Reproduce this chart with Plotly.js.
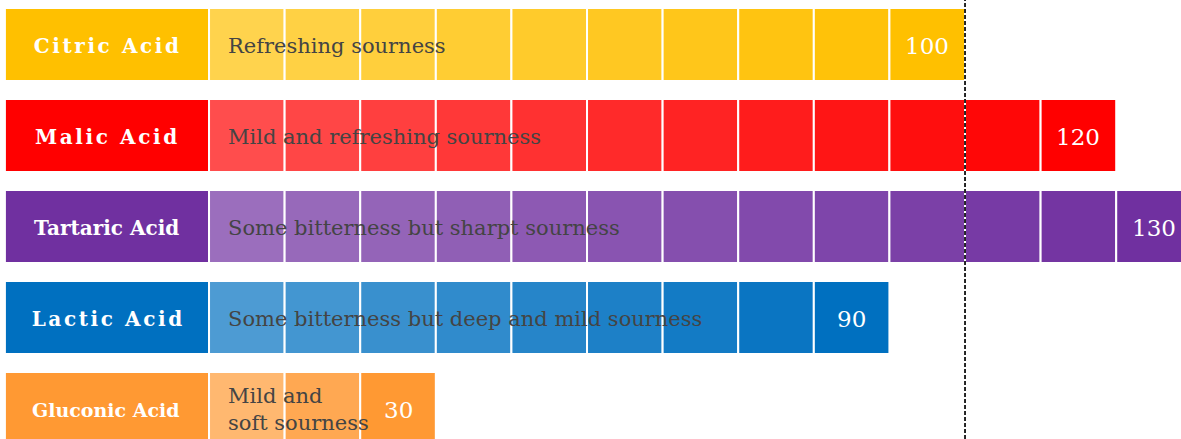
<!DOCTYPE html>
<html>
<head>
<meta charset="utf-8">
<script src="https://cdn.plot.ly/plotly-3.0.1.min.js"></script>
<style>
html,body{margin:0;padding:0;background:#fff;}
#chart{width:1181px;height:439px;}
g.annotation.spaced text{letter-spacing:2.6px;}
</style>
</head>
<body>
<div id="chart"></div>
<script>
// ---- data ----
var acids = ["Citric Acid", "Malic Acid", "Tartaric Acid", "Lactic Acid", "Gluconic Acid"];
var sourness = [100, 120, 130, 90, 30];
var descriptions = ["Refreshing sourness", "Mild and refreshing sourness", "Some bitterness but sharpt sourness", "Some bitterness but deep and mild sourness", "Mild and<br>soft sourness"];
var baseColors = ["#FFC000", "#FF0000", "#7030A0", "#0070C0", "#FF9933"];
var referenceValue = 100;
var step = 10;

// ---- style (not data) ----
var labelFontSizes = [20, 20, 20, 20, 19];
var labelSpaced = [true, true, false, true, false];

// ---- helpers ----
function hexToRgb(h){h=h.replace('#','');return [parseInt(h.substr(0,2),16),parseInt(h.substr(2,2),16),parseInt(h.substr(4,2),16)];}
function mixWhite(h, w){var c=hexToRgb(h);return 'rgb('+c.map(function(v){return Math.round(v*(1-w)+255*w);}).join(',')+')';}

var traces = [];
var labelW = 27;
// label boxes
traces.push({
  type:'bar', orientation:'h',
  y: acids.map(function(_,i){return i;}),
  x: acids.map(function(){return labelW;}),
  base: acids.map(function(){return -labelW;}),
  width: 0.8,
  marker:{color: baseColors, line:{color:'#fff', width:2}},
  hoverinfo:'skip', showlegend:false
});
// segmented bars
acids.forEach(function(name, i){
  var n = Math.round(sourness[i]/step);
  var xs=[], bs=[], ys=[], cs=[];
  for (var k=0;k<n;k++){
    xs.push(step); bs.push(k*step); ys.push(i);
    var t = n>1 ? k/(n-1) : 1;
    cs.push(mixWhite(baseColors[i], 0.3*(1-t)));
  }
  traces.push({
    type:'bar', orientation:'h', y:ys, x:xs, base:bs, width:0.8,
    marker:{color:cs, line:{color:'#fff', width:2}},
    hoverinfo:'skip', showlegend:false
  });
});

var annotations = [];
var spacedIdx = [];
acids.forEach(function(name, i){
  if (labelSpaced[i]) spacedIdx.push(annotations.length);
  annotations.push({x:-labelW/2 - 0.1, y:i, xref:'x', yref:'y', yshift:-1, text:'<b>'+name+'</b>', showarrow:false,
    xanchor:'center', yanchor:'middle', font:{family:'DejaVu Serif', size: labelFontSizes[i], color:'#fff'}});
  annotations.push({x:2.2, y:i, xref:'x', yref:'y', yshift:-1, text:descriptions[i], showarrow:false,
    xanchor:'left', yanchor:'middle', align:'left', font:{family:'DejaVu Serif', size:21, color:'#444'}});
  annotations.push({x:sourness[i]-step/2, y:i, xref:'x', yref:'y', yshift:-1, text:String(sourness[i]), showarrow:false,
    xanchor:'center', yanchor:'middle', font:{family:'DejaVu Serif', size:23, color:'#fff'}});
});

var layout = {
  width:1181, height:439,
  margin:{l:0, r:0, t:0, b:0},
  paper_bgcolor:'#fff', plot_bgcolor:'#fff',
  barmode:'overlay',
  xaxis:{range:[-27.65, 128.57], visible:false, fixedrange:true},
  yaxis:{range:[4.335, -0.489], visible:false, fixedrange:true},
  annotations: annotations,
  shapes:[{type:'line', xref:'x', yref:'paper', x0:referenceValue, x1:referenceValue, y0:0, y1:1,
    line:{color:'#111', width:1.8, dash:'4px,2px'}, layer:'above'}],
  showlegend:false
};

function markSpaced(){
  document.querySelectorAll('#chart g.annotation').forEach(function(a){
    var idx = +a.getAttribute('data-index');
    if (spacedIdx.indexOf(idx) >= 0) a.classList.add('spaced');
  });
}

Plotly.newPlot('chart', traces, layout, {displayModeBar:false, staticPlot:true}).then(function(gd){
  markSpaced();
  var upd = {};
  spacedIdx.forEach(function(idx){ upd['annotations['+idx+'].xshift'] = 1.3; });
  return Plotly.relayout(gd, upd);
}).then(markSpaced);
</script>
</body>
</html>
